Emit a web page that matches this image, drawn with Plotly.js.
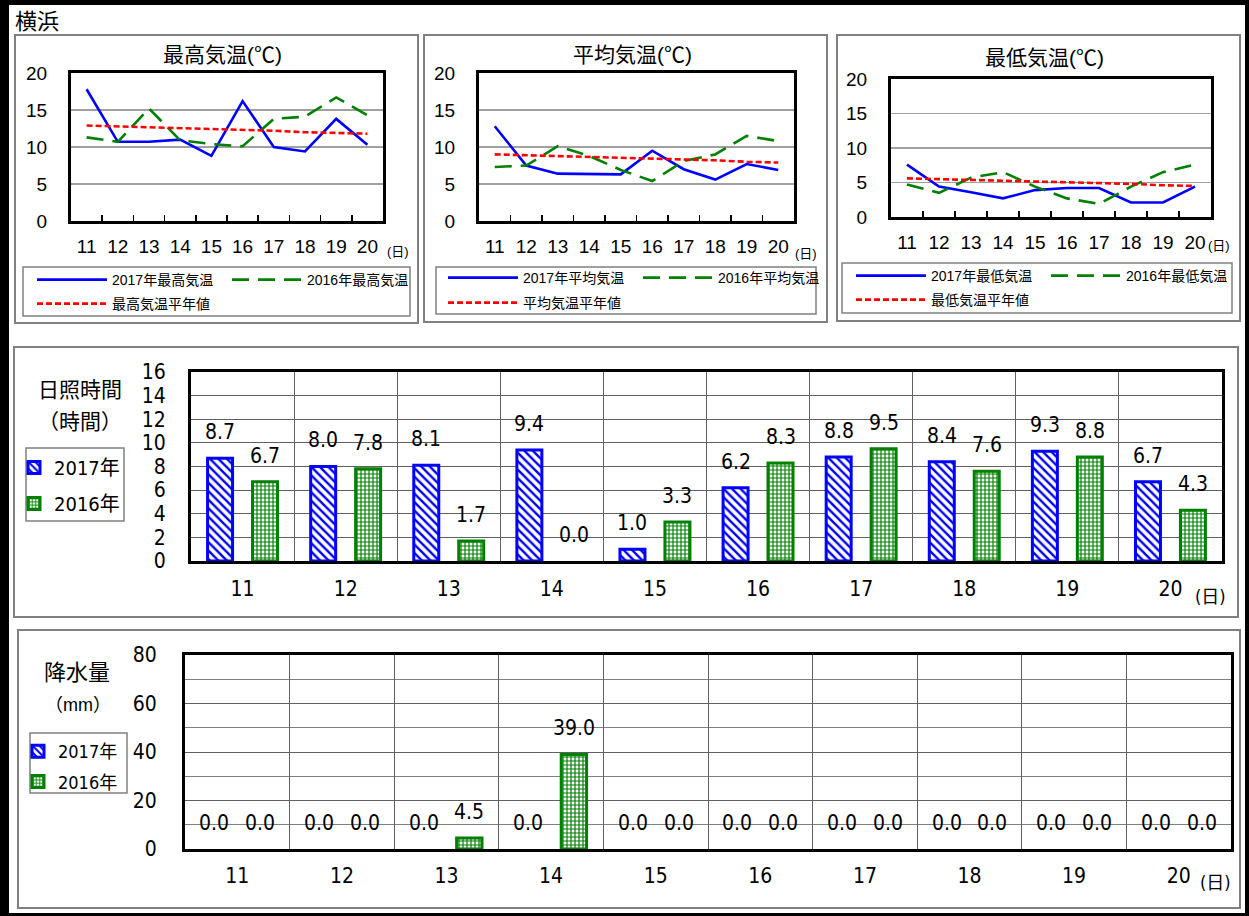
<!DOCTYPE html>
<html>
<head>
<meta charset="utf-8">
<script src="https://cdn.plot.ly/plotly-3.0.1.min.js"></script>
<style>
html,body{margin:0;padding:0;background:#fff;}
#chart{width:1249px;height:916px;}
</style>
</head>
<body>
<div id="chart"></div>
<script>
// ---------------- data ----------------
const days = ['11','12','13','14','15','16','17','18','19','20'];

const maxT2017   = [17.8,10.7,10.7,11.0,8.8,16.2,10.0,9.4,13.8,10.3];
const maxT2016   = [11.3,10.7,15.2,10.9,10.4,10.1,13.8,14.1,16.7,14.3];
const maxTNormal = [12.9,12.8,12.6,12.5,12.4,12.3,12.2,12.0,11.9,11.8];

const avgT2017   = [12.8,7.5,6.4,6.4,6.3,9.5,7.0,5.6,7.7,6.9];
const avgT2016   = [7.3,7.5,10.1,8.8,6.9,5.4,8.1,9.0,11.5,10.8];
const avgTNormal = [9.0,8.9,8.7,8.6,8.5,8.4,8.3,8.2,8.0,7.9];

const minT2017   = [7.6,4.4,3.6,2.7,3.9,4.2,4.2,2.1,2.1,4.4];
const minT2016   = [4.7,3.5,5.7,6.5,4.4,2.7,1.9,4.4,6.5,7.6];
const minTNormal = [5.6,5.5,5.4,5.3,5.1,5.0,4.9,4.8,4.6,4.5];

const sun2017 = [8.7,8.0,8.1,9.4,1.0,6.2,8.8,8.4,9.3,6.7];
const sun2016 = [6.7,7.8,1.7,0.0,3.3,8.3,9.5,7.6,8.8,4.3];

const rain2017 = [0.0,0.0,0.0,0.0,0.0,0.0,0.0,0.0,0.0,0.0];
const rain2016 = [0.0,0.0,4.5,39.0,0.0,0.0,0.0,0.0,0.0,0.0];

const yTicksTemp = [0,5,10,15,20];
const yTicksSun  = [0,2,4,6,8,10,12,14,16];
const yTicksRain = [0,20,40,60,80];

// ---------------- geometry helpers ----------------
const W = 1249, H = 916;
const dx = (a,b) => [a/W, b/W];
const dy = (t,b) => [1-b/H, 1-t/H];
const px = v => v/W;
const py = v => 1-v/H;

const FONT = 'Liberation Sans, Arial, Noto Sans CJK JP, sans-serif';
const NARROW = 'Liberation Sans Narrow, Arial Narrow, DejaVu Sans Condensed, Noto Sans CJK JP, sans-serif';
const BLUE = '#0000ff', GREEN = '#008000', RED = '#ff0000';
const CAT_RANGE = [-0.5, days.length - 0.5];

// ---------------- traces ----------------
const traces = [];
function lineSet(n, y17, y16, yN, name17, name16, nameN, lgA, lgB){
  const xa = 'x'+(n===1?'':n), ya = 'y'+(n===1?'':n);
  traces.push({type:'scatter', mode:'lines', x:days, y:y17, xaxis:xa, yaxis:ya, name:name17,
    line:{color:BLUE, width:2.6}, legend:lgA, hoverinfo:'skip'});
  traces.push({type:'scatter', mode:'lines', x:days, y:y16, xaxis:xa, yaxis:ya, name:name16,
    line:{color:GREEN, width:2.6, dash:'17px,9px'}, legend:lgA, hoverinfo:'skip'});
  traces.push({type:'scatter', mode:'lines', x:days, y:yN, xaxis:xa, yaxis:ya, name:nameN,
    line:{color:RED, width:2.6, dash:'6px,3px'}, legend:lgB, hoverinfo:'skip'});
}
lineSet(1, maxT2017, maxT2016, maxTNormal, '2017年最高気温', '2016年最高気温', '最高気温平年値', 'legend', 'legend2');
lineSet(2, avgT2017, avgT2016, avgTNormal, '2017年平均気温', '2016年平均気温', '平均気温平年値', 'legend3', 'legend4');
lineSet(3, minT2017, minT2016, minTNormal, '2017年最低気温', '2016年最低気温', '最低気温平年値', 'legend5', 'legend6');

// zero values draw no bar (only their "0.0" label), as in the original
const nz = arr => arr.map(v => v === 0 ? null : v);
function barPair(n, v17, v16, lg){
  const xa = 'x'+n, ya = 'y'+n;
  traces.push({type:'bar', x:days, y:nz(v17), xaxis:xa, yaxis:ya, name:'2017年', legend:lg, legendgroup:'a'+n,
    marker:{color:'#ffffff', line:{color:BLUE, width:3},
      pattern:{shape:'\\', fgcolor:BLUE, bgcolor:'#ffffff', size:6, solidity:0.4, fillmode:'replace'}},
    hoverinfo:'skip'});
  traces.push({type:'bar', x:days, y:nz(v16), xaxis:xa, yaxis:ya, name:'2016年', legend:lg, legendgroup:'b'+n,
    marker:{color:'#ffffff', line:{color:GREEN, width:3},
      pattern:{shape:'+', fgcolor:GREEN, bgcolor:'#ffffff', size:4, solidity:0.5, fillmode:'replace'}},
    hoverinfo:'skip'});
}
barPair(4, sun2017, sun2016, 'legend7');
barPair(5, rain2017, rain2016, 'legend8');

// ---------------- axes ----------------
function lineX(domain){
  return {domain, type:'category', range:CAT_RANGE, tickson:'boundaries', ticks:'inside', ticklen:6,
    tickwidth:1.5, tickcolor:'#000', showline:true, mirror:true, linewidth:3, linecolor:'#000',
    showgrid:false, zeroline:false, tickfont:{size:19, family:FONT, color:'#000'},
    ticklabelstandoff:6, fixedrange:true};
}
function lineY(domain){
  return {domain, range:[0,20], tickvals:yTicksTemp, ticktext:yTicksTemp.map(String), showgrid:true,
    gridcolor:'#a0a0a0', gridwidth:1.5, showline:true, mirror:true, linewidth:3, linecolor:'#000',
    ticks:'', zeroline:false, tickfont:{size:19, family:FONT, color:'#000'}, ticklabelstandoff:17, fixedrange:true};
}
function barX(domain, standoff){
  return {domain, type:'category', range:CAT_RANGE, tickson:'boundaries', ticks:'', showgrid:true, gridcolor:'#606060', gridwidth:1,
    showline:true, mirror:true, linewidth:3, linecolor:'#000', zeroline:false,
    tickfont:{size:21, family:NARROW, color:'#000'}, ticklabelstandoff:standoff, fixedrange:true};
}

const layout = {
  width:W, height:H, margin:{l:0,r:0,t:0,b:0}, paper_bgcolor:'#fff', plot_bgcolor:'#fff',
  font:{family:FONT, color:'#000'}, showlegend:true, barmode:'group', bargap:0.128, bargroupgap:0.444,
  xaxis:  Object.assign(lineX(dx(71,383)),  {anchor:'y'}),
  yaxis:  Object.assign(lineY(dy(73,221)),  {anchor:'x'}),
  xaxis2: Object.assign(lineX(dx(479,794)), {anchor:'y2'}),
  yaxis2: Object.assign(lineY(dy(73,221)),  {anchor:'x2'}),
  xaxis3: Object.assign(lineX(dx(891,1211)),{anchor:'y3'}),
  yaxis3: Object.assign(lineY(dy(79,217)),  {anchor:'x3'}),
  xaxis4: Object.assign(barX(dx(191,1222), 7), {anchor:'y4'}),
  yaxis4: {domain:dy(372,561), anchor:'x4', range:[0,16], tickvals:yTicksSun, ticktext:yTicksSun.map(String),
    showgrid:true, gridcolor:'#606060', gridwidth:1, showline:true, mirror:true, linewidth:3, linecolor:'#000',
    ticks:'', zeroline:false, tickfont:{size:21, family:NARROW, color:'#000'}, ticklabelstandoff:18, fixedrange:true},
  xaxis5: Object.assign(barX(dx(185,1231), 6), {anchor:'y5'}),
  yaxis5: {domain:dy(655,849), anchor:'x5', range:[0,80], tickvals:yTicksRain, ticktext:yTicksRain.map(String),
    showgrid:true, gridcolor:'#606060', gridwidth:1, minor:{dtick:10, tick0:0, showgrid:true, gridcolor:'#808080', gridwidth:1},
    showline:true, mirror:true, linewidth:3, linecolor:'#000',
    ticks:'', zeroline:false, tickfont:{size:21, family:NARROW, color:'#000'}, ticklabelstandoff:21, fixedrange:true},
  annotations:[], shapes:[]
};

// ---------------- legends ----------------
function hLegend(x, y){
  return {x:px(x), y:py(y), xanchor:'left', yanchor:'middle', orientation:'h', bgcolor:'rgba(0,0,0,0)',
    borderwidth:0, font:{size:14, family:FONT, color:'#000'}, itemwidth:70, entrywidth:110, itemclick:false, itemdoubleclick:false};
}
layout.legend  = hLegend(32, 280);
layout.legend2 = hLegend(32, 304);
layout.legend3 = hLegend(443, 278);
layout.legend4 = hLegend(443, 303);
layout.legend5 = hLegend(851, 276);
layout.legend6 = hLegend(851, 300);
function vLegend(x, y, size, gap){
  return {x:px(x), y:py(y), xanchor:'left', yanchor:'top', orientation:'v', bgcolor:'rgba(0,0,0,0)',
    borderwidth:0, font:{size:size, family:NARROW, color:'#000'}, tracegroupgap:gap, itemwidth:30, itemclick:false, itemdoubleclick:false};
}
layout.legend7 = vLegend(14, 448, 20, 7);
layout.legend8 = vLegend(18, 733, 18, 4);

// ---------------- shapes (frames / boxes) ----------------
function rect(x0,y0,x1,y1,color,width,fill){
  layout.shapes.push({type:'rect', xref:'paper', yref:'paper', x0:px(x0), x1:px(x1), y0:py(y1), y1:py(y0),
    line:{color:color, width:width}, fillcolor:fill||'rgba(0,0,0,0)', layer:'below'});
}
// outer black frame
rect(0,0,1249,5,'#000',0,'#000');
rect(0,0,9,916,'#000',0,'#000');
rect(1245,0,1249,916,'#000',0,'#000');
rect(0,913,1249,916,'#000',0,'#000');
// panels
rect(15,35,418,323,'#808080',2);
rect(424,35,827,322,'#808080',2);
rect(837,35,1240,321,'#808080',2);
rect(14,347,1238,617,'#808080',2);
rect(18,630,1240,908,'#808080',2);
// legend boxes
rect(23,267,410,316,'#808080',1.5);
rect(436,267,816,314,'#808080',1.5);
rect(842,263,1232,313,'#808080',1.5);
rect(26,448,124,521,'#808080',1.5);
rect(30,733,127,793,'#808080',1.5);

// ---------------- text annotations ----------------
function txt(x,y,text,size,family,xanchor){
  layout.annotations.push({xref:'paper', yref:'paper', x:px(x), y:py(y), text:text, showarrow:false,
    xanchor:xanchor||'center', yanchor:'middle', font:{size:size, family:family||FONT, color:'#000'}});
}
txt(13,21,'横浜',22,FONT,'left');
txt(222,55,'最高気温(℃)',21);
txt(632,55,'平均気温(℃)',21);
txt(1044,57,'最低気温(℃)',21);
txt(398,251,'(日)',13);
txt(806,253,'(日)',13);
txt(1219,245,'(日)',13);
txt(80,390,'日照時間',21);
txt(80,421,'（時間）',21);
txt(1210,596,'(日)',18,NARROW);
txt(77,672,'降水量',22);
txt(78,705,'（mm）',18);
txt(1215,882,'(日)',18,NARROW);

// data labels above bars (from data arrays; x is the category index)
function barLabels(n, v17, v16, catW){
  const off = catW*0.218;
  days.forEach((d,i)=>{
    [[v17[i],-off],[v16[i],off]].forEach(([v,s])=>{
      layout.annotations.push({xref:'x'+n, yref:'y'+n, x:i, y:v, xshift:s, yshift:26, text:v.toFixed(1),
        showarrow:false, xanchor:'center', yanchor:'middle', font:{size:21, family:NARROW, color:'#000'}});
    });
  });
}
barLabels(4, sun2017, sun2016, (1222-191)/10);
barLabels(5, rain2017, rain2016, (1231-185)/10);

Plotly.newPlot('chart', traces, layout, {staticPlot:true, displayModeBar:false});
</script>
</body>
</html>
